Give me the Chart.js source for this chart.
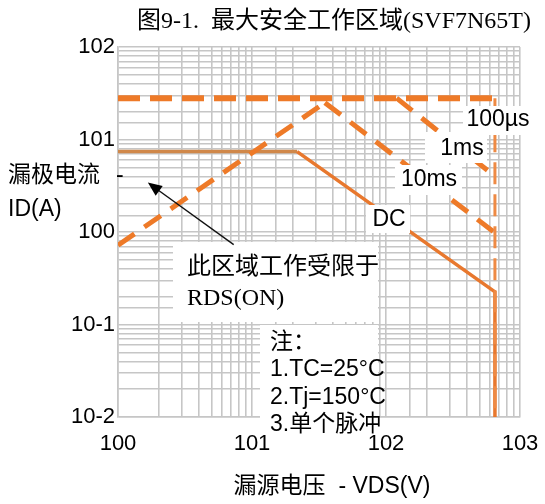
<!DOCTYPE html>
<html><head><meta charset="utf-8">
<script src="https://cdn.jsdelivr.net/npm/chart.js@4.4.1/dist/chart.umd.min.js"></script>
<style>html,body{margin:0;padding:0;background:#fff;}canvas{display:block}</style>
</head><body>
<canvas id="c" width="545" height="504"></canvas>
<script>
// ---- data ----
const xTickLabels = ['100', '101', '102', '103'];
const yTickLabels = ['10-2', '10-1', '100', '101', '102'];
const curveNames = ['100µs', '1ms', '10ms', 'DC'];
const rdsV = [1, 35];          const rdsI = [0.72, 25];
const us100V = [1, 650];       const us100I = [28, 28];
const limitV = [650, 650];     const limitI = [28, 0.01];
const ms1V = [120, 650];       const ms1I = [28, 4.0];
const ms10V = [35, 650];       const ms10I = [25, 0.98];
const dcV = [1, 21.7, 650, 650]; const dcI = [7.4, 7.4, 0.225, 0.01];
const arrowV = [7.3, 1.67];    const arrowI = [0.73, 3.42];

const pts = (xs, ys) => xs.map((x, i) => ({x: x, y: ys[i]}));
const ORANGE = '#EE7A28';
const GRID = '#c6c6c6';
const SANS = '"Liberation Sans", Arial, sans-serif';
const SERIF_CJK = '"Liberation Serif", "Noto Sans CJK SC", serif';
const SANS_CJK = '"Liberation Sans", "Noto Sans CJK SC", sans-serif';

function decadeLabel(value, labels, minExp) {
  const e = Math.log10(value);
  const r = Math.round(e);
  if (Math.abs(e - r) < 1e-6) return labels[r - minExp] || '';
  return '';
}

const textPlugin = {
  id: 'texts',
  afterDatasetsDraw(chart) {
    const ctx = chart.ctx;
    const xs = chart.scales.x, ys = chart.scales.y;
    ctx.save();
    // white label boxes
    ctx.fillStyle = '#fff';
    const boxes = [[463,106,70,29],[425,132,62,31],[395,165,67,30],[366,205,44,28],[173,242,205,80],[260,325,118,95]];
    boxes.forEach(b => ctx.fillRect(b[0], b[1], b[2], b[3]));
    ctx.fillStyle = '#000';
    ctx.textBaseline = 'middle';
    ctx.textAlign = 'center';
    ctx.font = '23px ' + SANS;
    ctx.fillText(curveNames[0], 498, 120);
    ctx.fillText(curveNames[1], 462, 149);
    ctx.fillText(curveNames[2], 429, 180);
    ctx.fillText(curveNames[3], 389, 220);
    // annotation
    ctx.textAlign = 'left';
    ctx.font = '24px ' + SERIF_CJK;
    ctx.fillText('此区域工作受限于', 187, 268);
    ctx.fillText('RDS(ON)', 187, 299);
    // notes
    ctx.font = '23px ' + SERIF_CJK;
    ctx.fillText('注：', 270, 343);
    ctx.font = '23px ' + SANS_CJK;
    ctx.fillText('1.TC=25°C', 270, 370);
    ctx.fillText('2.Tj=150°C', 270, 398);
    ctx.fillText('3.单个脉冲', 270, 425);
    // arrow
    const x0 = xs.getPixelForValue(arrowV[0]), y0 = ys.getPixelForValue(arrowI[0]);
    const x1 = xs.getPixelForValue(arrowV[1]), y1 = ys.getPixelForValue(arrowI[1]);
    const ang = Math.atan2(y1 - y0, x1 - x0);
    ctx.strokeStyle = '#111';
    ctx.lineWidth = 1.4;
    ctx.beginPath();
    ctx.moveTo(x0, y0);
    ctx.lineTo(x1 - 10 * Math.cos(ang), y1 - 10 * Math.sin(ang));
    ctx.stroke();
    ctx.fillStyle = '#000';
    ctx.beginPath();
    ctx.moveTo(x1, y1);
    ctx.lineTo(x1 - 14 * Math.cos(ang) + 6 * Math.sin(ang), y1 - 14 * Math.sin(ang) - 6 * Math.cos(ang));
    ctx.lineTo(x1 - 14 * Math.cos(ang) - 6 * Math.sin(ang), y1 - 14 * Math.sin(ang) + 6 * Math.cos(ang));
    ctx.closePath();
    ctx.fill();
    ctx.restore();
  },
  afterDraw(chart) {
    const ctx = chart.ctx;
    ctx.save();
    ctx.fillStyle = '#000';
    ctx.textBaseline = 'middle';
    ctx.textAlign = 'center';
    ctx.font = '24px ' + SERIF_CJK;
    ctx.fillText('图9-1.  最大安全工作区域(SVF7N65T)', 334, 22);
    ctx.font = '23px ' + SANS_CJK;
    ctx.fillText('漏源电压  - VDS(V)', 332, 487);
    ctx.textAlign = 'left';
    ctx.fillText('漏极电流', 8, 176);
    ctx.fillText('-', 116, 176);
    ctx.fillText('ID(A)', 8, 210);
    ctx.restore();
  }
};

const lineDs = (data, opts) => Object.assign({
  data: data, showLine: true, pointRadius: 0, borderColor: ORANGE, backgroundColor: ORANGE,
  fill: false, tension: 0, borderCapStyle: 'butt'
}, opts);

new Chart(document.getElementById('c'), {
  type: 'scatter',
  data: {
    datasets: [
      lineDs(pts(us100V, us100I), {borderWidth: 6, borderDash: [22, 10]}),
      lineDs(pts(limitV, limitI), {borderWidth: 3, borderDash: [22, 10], borderColor: '#EE8A44'}),
      lineDs(pts(rdsV, rdsI), {borderWidth: 5, borderDash: [20, 12]}),
      lineDs(pts(ms10V, ms10I), {borderWidth: 5, borderDash: [20, 12]}),
      lineDs(pts(ms1V, ms1I), {borderWidth: 5, borderDash: [20, 12]}),
      lineDs(pts(dcV, dcI), {borderWidth: 3.5, borderColor: '#E8782E',
        segment: {borderColor: c => c.p0DataIndex === 0 ? '#D0884A' : '#E8782E'}})
    ]
  },
  options: {
    responsive: false,
    animation: false,
    layout: {padding: {top: 47, right: 25, left: 0, bottom: 0}},
    plugins: {legend: {display: false}, tooltip: {enabled: false}},
    scales: {
      x: {
        type: 'logarithmic', min: 1, max: 1000,
        afterFit: s => { s.height = 87; },
        grid: {color: GRID, lineWidth: 1.6, drawTicks: true, tickLength: 12, tickColor: 'rgba(0,0,0,0)'},
        border: {color: GRID, width: 1.6},
        ticks: {autoSkip: false, maxRotation: 0, padding: 2, color: '#000',
          font: {family: SANS, size: 22},
          callback: v => decadeLabel(v, xTickLabels, 0)}
      },
      y: {
        type: 'logarithmic', min: 0.01, max: 100,
        afterFit: s => { s.width = 118; },
        grid: {color: GRID, lineWidth: 1.6, drawTicks: false},
        border: {color: GRID, width: 1.6},
        ticks: {autoSkip: false, padding: 3, color: '#000',
          font: {family: SANS, size: 22},
          callback: v => decadeLabel(v, yTickLabels, -2)}
      }
    }
  },
  plugins: [textPlugin]
});
</script>
</body></html>
